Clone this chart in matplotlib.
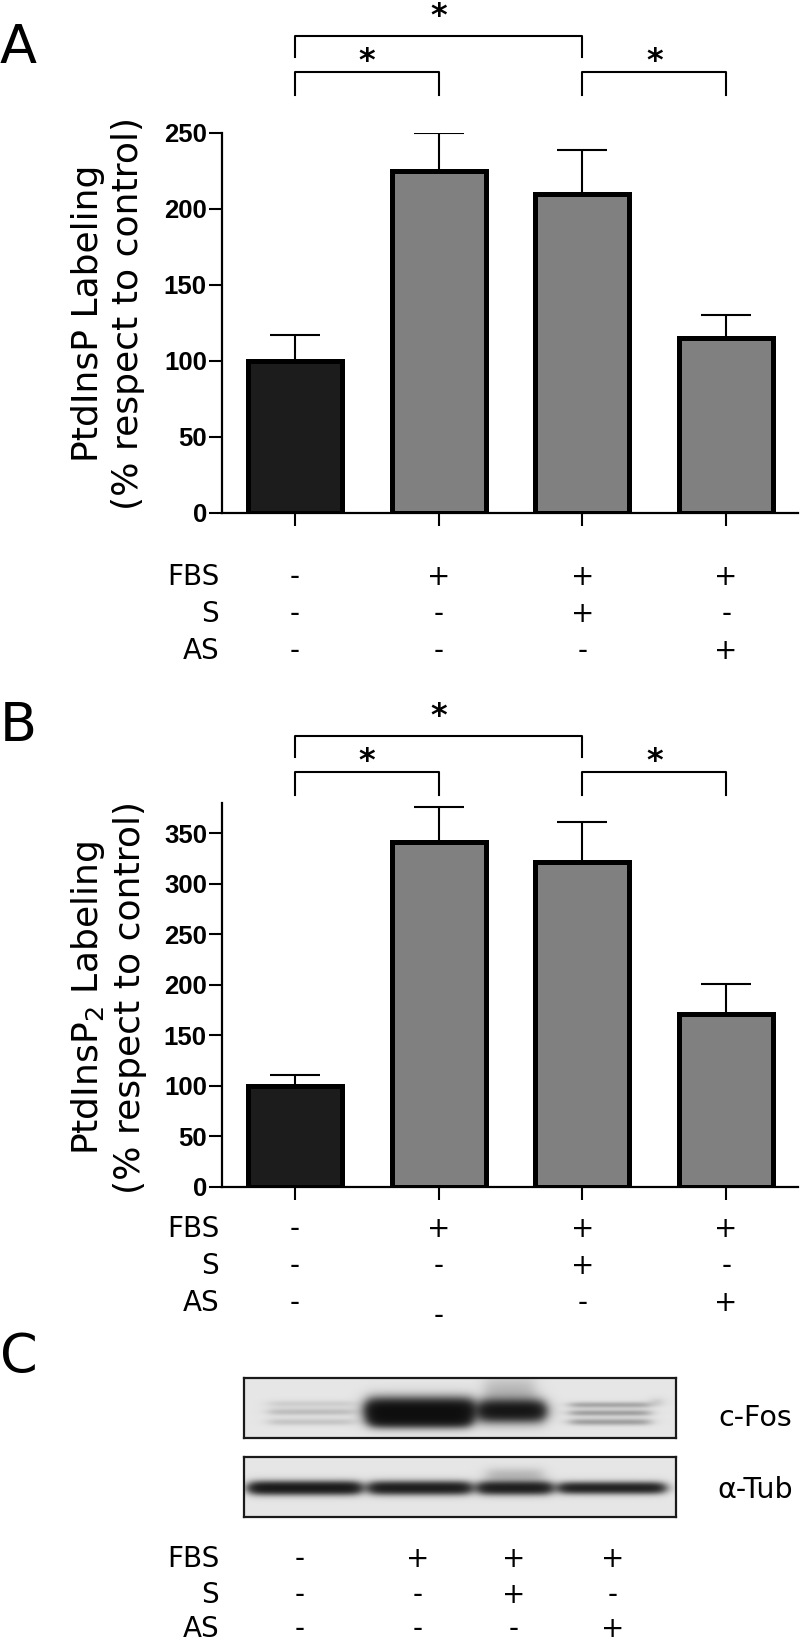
import numpy as np
import matplotlib.pyplot as plt
from matplotlib import transforms

# data
rows = ['FBS', 'S', 'AS']
treatments = [['-', '+', '+', '+'],
              ['-', '-', '+', '-'],
              ['-', '-', '-', '+']]
ptdinsp_mean = [100, 225, 210, 115]
ptdinsp_sem = [17, 25, 29, 15]
ptdinsp2_mean = [100, 341, 322, 171]
ptdinsp2_sem = [11, 35, 39, 30]
bar_colors = ['#1c1c1c', '#808080', '#808080', '#808080']
sig_pairs = [(0, 1), (2, 3), (0, 2)]
yticks_a = [0, 50, 100, 150, 200, 250]
yticks_b = [0, 50, 100, 150, 200, 250, 300, 350]
# relative band darkness per lane on the blot
fos_intensity = [0.18, 1.8, 1.6, 0.32]
tub_intensity = [1.5, 1.4, 1.4, 1.3]

W, H = 800, 1646
fig = plt.figure(figsize=(W / 100, H / 100), dpi=100)


def box(l, t, r, b):
    return [l / W, 1 - b / H, (r - l) / W, (b - t) / H]


def fy(py):
    return 1 - py / H


x = np.arange(4)
tickfont = dict(family='Liberation Sans', weight='bold', size=18.5)


def bar_panel(top, bottom, ymax, yticks, mean, sem, ylabel, label_y, letter, letter_y,
              off, row_y, odd=None):
    ax = fig.add_axes(box(222, top, 798, bottom))
    ax.bar(x, mean, width=0.655, color=bar_colors, edgecolor='black', linewidth=3.6, zorder=3)
    ax.errorbar(x, mean, yerr=[np.zeros(4), sem], fmt='none', ecolor='black',
                elinewidth=1.5, capsize=18, capthick=1.5, zorder=2)
    ax.set_xlim(-0.508, 3.5)
    ax.set_ylim(0, ymax)
    ax.set_yticks(yticks)
    ax.set_yticklabels([str(t) for t in yticks], fontdict=tickfont)
    ax.set_xticks(x)
    ax.set_xticklabels([])
    for s in ['top', 'right']:
        ax.spines[s].set_visible(False)
    for s in ['left', 'bottom']:
        ax.spines[s].set_linewidth(1.6)
    ax.tick_params(length=9.4, width=1.5, pad=1.5, direction='out')

    fig.text(108 / W, fy(label_y), ylabel, rotation=90, ha='center', va='center',
             multialignment='center', fontsize=26, family='DejaVu Sans')
    fig.text(0, fy(letter_y), letter, fontsize=39, va='baseline', ha='left')

    tr = transforms.blended_transform_factory(ax.transData, fig.transFigure)
    # significance brackets
    levels = {(0, 1): (72, 95, 51), (2, 3): (72, 95, 51), (0, 2): (36, 57, 6)}
    for a, b in sig_pairs:
        yb, yl, ys = levels[(a, b)]
        ax.plot([a, a, b, b], [fy(yl + off), fy(yb + off), fy(yb + off), fy(yl + off)],
                color='black', lw=1.5, transform=tr, clip_on=False)
        ax.text((a + b) / 2, fy(ys + off + 19), '*', ha='center', va='baseline',
                fontsize=23, fontweight='bold', transform=tr)

    # treatment table
    for r, (name, vals) in enumerate(zip(rows, treatments)):
        fig.text(219 / W, fy(row_y[r] + 10), name, ha='right', va='baseline', fontsize=20)
        for i, v in enumerate(vals):
            yy = row_y[r] + 10
            if odd is not None and (r, i) == odd[0]:
                yy = odd[1] + 10
            ax.text(i, fy(yy), v, ha='center', va='baseline', fontsize=20, transform=tr)
    return ax


bar_panel(133, 513, 250, yticks_a, ptdinsp_mean, ptdinsp_sem,
          'PtdInsP Labeling\n(% respect to control)', 313, 'A', 63, 0, [575, 612, 649])
bar_panel(803, 1187, 380, yticks_b, ptdinsp2_mean, ptdinsp2_sem,
          'PtdInsP$_2$ Labeling\n(% respect to control)', 998, 'B', 741, 700,
          [1227, 1264, 1301], odd=((2, 1), 1314))

# panel C: western blot
fig.text(0, fy(1372), 'C', fontsize=39, va='baseline', ha='left')


def smooth_box(xx, c, hw, soft=4.0):
    return 1 / (1 + np.exp(-(xx - (c - hw)) / soft)) / (1 + np.exp((xx - (c + hw)) / soft))


def draw_blot(t, b, bands):
    ax = fig.add_axes(box(244, t, 676, b))
    xs = np.arange(244, 676) + 0.5
    ys = np.arange(t, b) + 0.5
    X, Y = np.meshgrid(xs, ys)
    dark = np.zeros_like(X)
    for cx, hw, cy, sy, amp in bands:
        dark += amp * smooth_box(X, cx, hw) * np.exp(-0.5 * ((Y - cy) / sy) ** 2)
    img = 0.9 - 0.88 * np.tanh(dark)
    ax.imshow(img, cmap='gray', vmin=0, vmax=1, extent=(244, 676, b, t),
              aspect='auto', interpolation='bilinear')
    ax.set_xticks([])
    ax.set_yticks([])
    for s in ax.spines.values():
        s.set_linewidth(1.6)
        s.set_color('#1a1a1a')
    return ax


f1, f2, f3, f4 = fos_intensity
fos_bands = [
    (311, 42, 1404, 2.5, 0.6 * f1), (311, 42, 1412, 2.5, 1.0 * f1), (311, 42, 1422, 2.5, 0.8 * f1),
    (420, 53, 1410, 8.0, f2), (420, 50, 1421, 5.0, 0.5 * f2),
    (512, 32, 1411, 7.5, f3), (510, 25, 1390, 10.0, 0.12 * f3),
    (610, 40, 1405, 2.2, 0.9 * f4), (610, 40, 1413, 2.2, 1.0 * f4), (610, 40, 1422, 2.4, 1.0 * f4),
    (657, 2, 1402, 3.0, 0.25),
]
draw_blot(1378, 1438, fos_bands)

t1, t2, t3, t4 = tub_intensity
tub_bands = [
    (305, 55, 1488, 4.5, t1), (420, 50, 1488, 4.5, t2),
    (515, 36, 1488, 4.5, t3), (612, 52, 1488, 4.0, t4),
    (515, 28, 1475, 5.0, 0.2),
]
draw_blot(1457, 1517, tub_bands)

fig.text(718 / W, fy(1426), 'c-Fos', fontsize=20.5, ha='left', va='baseline')
fig.text(717 / W, fy(1498), '\u03b1-Tub', fontsize=20.5, ha='left', va='baseline')

c_cols = [300, 418, 514, 613]
c_rows = [1557, 1593, 1627]
for r, (name, vals) in enumerate(zip(rows, treatments)):
    fig.text(219 / W, fy(c_rows[r] + 10), name, ha='right', va='baseline', fontsize=20)
    for cx, v in zip(c_cols, vals):
        fig.text(cx / W, fy(c_rows[r] + 10), v, ha='center', va='baseline', fontsize=20)

fig.savefig('out.png', dpi=100)
